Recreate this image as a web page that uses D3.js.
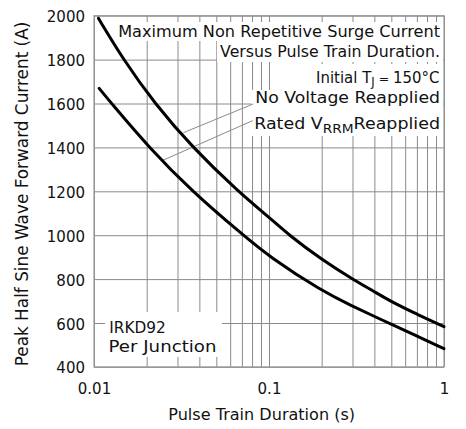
<!DOCTYPE html>
<html>
<head>
<meta charset="utf-8">
<script src="https://cdn.jsdelivr.net/npm/d3@7"></script>
<style>
  html, body { margin: 0; padding: 0; background: #fff; }
  svg { display: block; }
  text { font-family: "DejaVu Sans", sans-serif; fill: #111; }
</style>
</head>
<body>
<svg id="chart" width="466" height="429"></svg>
<script>
// ---- data ----
const xDecades = [0.01, 0.1, 1];
const xTickLabels = ["0.01", "0.1", "1"];
const yTicks = [400, 600, 800, 1000, 1200, 1400, 1600, 1800, 2000];

// No Voltage Reapplied (upper curve)
const noVoltT = [0.0106, 0.0147, 0.0222, 0.0365, 0.0665, 0.1, 0.13, 0.2, 0.3, 0.4, 0.5, 0.7, 1];
const noVoltA = [1988, 1800, 1600, 1400, 1200, 1082, 1000, 889, 800, 743, 697, 640, 583];
// Rated VRRM Reapplied (lower curve)
const ratedT = [0.0107, 0.0126, 0.0206, 0.0363, 0.0713, 0.1, 0.2, 0.3, 0.4, 0.5, 0.7, 1];
const ratedA = [1669, 1600, 1400, 1200, 1000, 903, 746, 677, 630, 594, 541, 483];

const xTitle = "Pulse Train Duration (s)";
const yTitle = "Peak Half Sine Wave Forward Current (A)";

// ---- layout ----
const svg = d3.select("#chart");
const L = 94, R = 444, T = 15.7, B = 366.9;
const x = d3.scaleLog().domain([0.01, 1]).range([L, R]);
const y = d3.scaleLinear().domain([400, 2000]).range([B, T]);

const gridColor = "#8a8a8a";

// grid (vertical) from all log ticks
const xGrid = svg.append("g")
  .attr("transform", `translate(0,${B})`)
  .call(d3.axisBottom(x).tickValues(x.ticks()).tickSize(-(B - T)).tickFormat(""));
xGrid.select(".domain").remove();
xGrid.selectAll("line").attr("stroke", gridColor).attr("stroke-width", 1);

// grid (horizontal)
const yGrid = svg.append("g")
  .attr("transform", `translate(${L},0)`)
  .call(d3.axisLeft(y).tickValues(yTicks).tickSize(-(R - L)).tickFormat(""));
yGrid.select(".domain").remove();
yGrid.selectAll("line").attr("stroke", gridColor).attr("stroke-width", 1);

// frame
svg.append("rect").attr("x", L).attr("y", T).attr("width", R - L).attr("height", B - T)
  .attr("fill", "none").attr("stroke", "#9a9a9a").attr("stroke-width", 1.2);

// ---- annotation boxes (white backgrounds hiding grid) ----
function box(x0, y0, x1, y1) {
  svg.append("rect").attr("x", x0).attr("y", y0).attr("width", x1 - x0).attr("height", y1 - y0)
    .attr("fill", "#fff");
}
box(116, 22, 443, 41);
box(217, 41, 443, 62);
box(312, 64, 443, 90);
box(251, 90, 443, 109);
box(250, 109, 443, 136);
box(105, 312, 222, 357);

// place text: given font size, stretch horizontally to the target width
function place(sel, xA, yA, target, anchor) {
  sel.attr("x", 0).attr("y", 0).attr("text-anchor", anchor);
  const w = sel.node().getBBox().width;
  sel.attr("transform", `translate(${xA},${yA}) scale(${target / w},1)`);
  return sel;
}
function fit(sel, target, base) {
  sel.style("font-size", base + "px");
  const w = sel.node().getComputedTextLength();
  sel.style("font-size", (base * target / w) + "px");
  return sel;
}

// leader lines
const leaders = [
  {t0: 0.0324, v0: 1467, t1: 0.0813, v1: 1598},
  {t0: 0.0244, v0: 1339, t1: 0.0807, v1: 1522}
];
svg.selectAll(".leader").data(leaders).enter().append("line")
  .attr("x1", d => x(d.t0)).attr("y1", d => y(d.v0))
  .attr("x2", d => x(d.t1)).attr("y2", d => y(d.v1))
  .attr("stroke", "#8a8a8a").attr("stroke-width", 1);

// curves
const line = d3.line().x(d => x(d[0])).y(d => y(d[1])).curve(d3.curveBasis);
const series = [
  noVoltT.map((t, i) => [t, noVoltA[i]]),
  ratedT.map((t, i) => [t, ratedA[i]])
];
svg.selectAll(".curve").data(series).enter().append("path")
  .attr("d", line).attr("fill", "none").attr("stroke", "#000").attr("stroke-width", 3)
  .attr("stroke-linejoin", "round").attr("stroke-linecap", "round");

// ---- annotation texts ----
function rtext(str, xEnd, base, width, size) {
  const t = svg.append("text").style("font-size", size + "px").text(str);
  return place(t, xEnd, base, width, "end");
}
rtext("Maximum Non Repetitive Surge Current", 440, 36.7, 322, 15.5);
rtext("Versus Pulse Train Duration.", 440, 57.3, 220, 15.5);

// Initial TJ = 150°C
(function() {
  const t = svg.append("text").style("font-size", "15px");
  t.append("tspan").text("Initial T");
  t.append("tspan").attr("dy", 3).style("font-size", "11.5px").text("J");
  t.append("tspan").attr("dy", -3).style("font-size", "12.5px").text(" = ");
  t.append("tspan").text("150°C");
  place(t, 439.5, 82.7, 123.5, "end");
})();

rtext("No Voltage Reapplied", 440, 103.3, 185, 16.5);

(function() {
  const t = svg.append("text").style("font-size", "16.5px");
  t.append("tspan").text("Rated V");
  t.append("tspan").attr("dy", 4).style("font-size", "13px").text("RRM");
  t.append("tspan").attr("dy", -4).text("Reapplied");
  place(t, 440, 128.5, 186, "end");
})();

const irkd = svg.append("text").style("font-size", "16.5px").text("IRKD92");
place(irkd, 109.3, 333, 56.5, "start");
const perj = svg.append("text").style("font-size", "16.5px").text("Per Junction");
place(perj, 108.5, 351.7, 108, "start");

// ---- axes labels ----
const yAxis = svg.append("g").attr("transform", `translate(${L},0)`)
  .call(d3.axisLeft(y).tickValues(yTicks).tickSize(0).tickPadding(9).tickFormat(d3.format("d")));
yAxis.select(".domain").remove();
yAxis.selectAll("text").attr("dy", "0.4em").style("font-size", "15px")
  .style("font-family", '"DejaVu Sans", sans-serif').attr("fill", "#111");

const xAxis = svg.append("g").attr("transform", `translate(0,${B})`)
  .call(d3.axisBottom(x).tickValues(xDecades).tickSize(0).tickPadding(16.5)
    .tickFormat((d, i) => xTickLabels[i]));
xAxis.select(".domain").remove();
xAxis.selectAll("text").style("font-size", "15px")
  .style("font-family", '"DejaVu Sans", sans-serif').attr("fill", "#111");

// titles
const xt = svg.append("text").attr("x", 261.7).attr("y", 420).attr("text-anchor", "middle").text(xTitle);
fit(xt, 187, 14);
const yt = svg.append("text").attr("transform", "translate(28,194) rotate(-90)")
  .attr("text-anchor", "middle").text(yTitle);
fit(yt, 345, 15);
</script>
</body>
</html>
